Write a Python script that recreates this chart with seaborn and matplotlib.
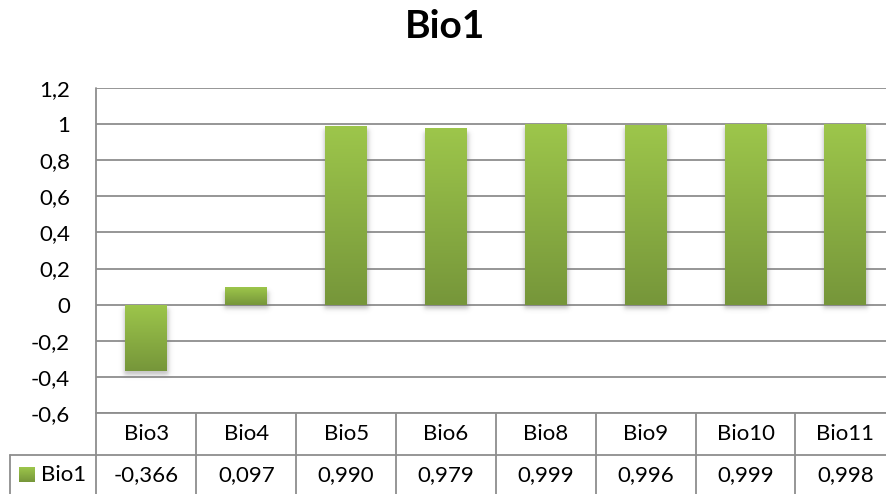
import numpy as np
import pandas as pd
import matplotlib
matplotlib.use("Agg")
import matplotlib.pyplot as plt
import seaborn as sns
from matplotlib.lines import Line2D
from matplotlib.colors import LinearSegmentedColormap
from matplotlib.ticker import FixedLocator, FuncFormatter

# Correlation of each bioclimatic variable with Bio1
categories = ["Bio3", "Bio4", "Bio5", "Bio6", "Bio8", "Bio9", "Bio10", "Bio11"]
values = [-0.366, 0.097, 0.990, 0.979, 0.999, 0.996, 0.999, 0.998]
series_name = "Bio1"
y_ticks = [-0.6, -0.4, -0.2, 0.0, 0.2, 0.4, 0.6, 0.8, 1.0, 1.2]

GREEN_TOP = "#9DC64B"
GREEN_BOT = "#76963A"
GRID = "#8E8E8E"
FS = 16

sns.set_theme(style="white")
plt.rcParams["font.family"] = ["Lato", "DejaVu Sans"]

W, H = 887, 494
fig = plt.figure(figsize=(W / 100, H / 100), dpi=100)
fig.patch.set_facecolor("white")

# plot area in pixels
px_left, cell_w = 96.5, 99.85
px_right = px_left + cell_w * len(categories)
px_top, px_bot = 88, 413
ax = fig.add_axes([px_left / W, (H - px_bot) / H,
                   (px_right - px_left) / W, (px_bot - px_top) / H])

df = pd.DataFrame({"variable": categories, "r": values})
sns.barplot(data=df, x="variable", y="r", ax=ax, width=0.42,
            color=GREEN_TOP, saturation=1, zorder=3)

ax.set_xlim(-0.5, len(categories) - 0.5)
ax.set_ylim(y_ticks[0], y_ticks[-1])

# vertical gradient fill with a soft drop shadow under each bar
cmap = LinearSegmentedColormap.from_list("bar", [GREEN_BOT, GREEN_TOP])
grad = np.linspace(0, 1, 256).reshape(-1, 1)
data_per_px_x = len(categories) / (px_right - px_left)
data_per_px_y = (y_ticks[-1] - y_ticks[0]) / (px_bot - px_top)


def soft_step(t, s):
    return 0.5 * (1 + np.tanh(t / s))


for p in list(ax.patches):
    x, w = p.get_x(), p.get_width()
    y0 = min(p.get_y(), p.get_y() + p.get_height())
    y1 = max(p.get_y(), p.get_y() + p.get_height())
    # shadow in pixel space
    bw = w / data_per_px_x
    bh = (y1 - y0) / data_per_px_y
    pad_x, pad_b = 8, 14
    nx, ny = int(bw + 2 * pad_x), int(bh + pad_b)
    xs = np.arange(nx) + 0.5 - pad_x
    ys = np.arange(ny) + 0.5  # from top of bar downward
    off = 4.0
    s = 2.6
    ax_x = soft_step(xs + 1, s) * soft_step(bw + 1 - xs, s)
    ax_y = soft_step(ys - off, s) * soft_step(bh + off - ys, s)
    alpha = np.outer(ax_y, ax_x) * 0.42
    shadow = np.zeros((ny, nx, 4))
    shadow[..., :3] = 0.45
    shadow[..., 3] = alpha
    ax.imshow(shadow, extent=(x - pad_x * data_per_px_x,
                              x + w + pad_x * data_per_px_x,
                              y1 - ny * data_per_px_y, y1),
              aspect="auto", origin="upper", zorder=2, interpolation="bilinear")
    im = ax.imshow(grad, extent=(x, x + w, y0, y1), origin="lower",
                   aspect="auto", cmap=cmap, zorder=3.5)
    im.set_clip_path(p)
    p.set_alpha(0)

ax.set_xlim(-0.5, len(categories) - 0.5)
ax.set_ylim(y_ticks[0], y_ticks[-1])

# axes styling
ax.yaxis.set_major_locator(FixedLocator(y_ticks))


def fmt(v, _pos=None):
    s = f"{v:.1f}".rstrip("0").rstrip(".")
    if s in ("-0", ""):
        s = "0"
    return s.replace(".", ",")


ax.yaxis.set_major_formatter(FuncFormatter(fmt))
ax.grid(axis="y", color=GRID, linewidth=1.3, zorder=0)
ax.grid(axis="x", visible=False)
ax.set_axisbelow(True)
for side in ("top", "right", "bottom", "left"):
    ax.spines[side].set_visible(False)
ax.tick_params(axis="y", length=0, pad=19, labelsize=FS, labelcolor="black")
ax.set_xticks(range(len(categories)))
ax.set_xticklabels([])
ax.tick_params(axis="x", length=0)
ax.set_xlabel("")
ax.set_ylabel("")


def fig_line(x0, y0, x1, y1):
    fig.add_artist(Line2D([x0 / W, x1 / W], [1 - y0 / H, 1 - y1 / H],
                          color=GRID, linewidth=1.3, transform=fig.transFigure))


# data table under the plot
row1_y, row2_y = 413, 455
fig_line(px_left, px_top, px_left, H + 2)
fig_line(px_left, row1_y, W + 5, row1_y)
fig_line(10, row2_y, W + 5, row2_y)
fig_line(10, row2_y, 10, H + 2)
for k in range(1, len(categories)):
    xk = px_left + k * cell_w
    fig_line(xk, row1_y, xk, H + 2)

for i, (c, v) in enumerate(zip(categories, values)):
    cx = (px_left + (i + 0.5) * cell_w) / W
    fig.text(cx, 1 - 434 / H, c, ha="center", va="center", fontsize=FS,
             color="black")
    fig.text(cx, 1 - 475 / H, f"{v:.3f}".replace(".", ","), ha="center",
             va="center", fontsize=FS, color="black")

# legend key in the table's row header
key = fig.add_axes([19 / W, 1 - 482 / H, 16 / W, 15 / H])
key.imshow(grad, origin="lower", aspect="auto", cmap=cmap)
key.set_axis_off()
fig.text(41 / W, 1 - 475 / H, series_name, ha="left", va="center",
         fontsize=FS, color="black")

fig.text(445 / W, 1 - 26 / H, series_name, ha="center", va="center",
         fontsize=28, fontweight="bold", color="black")

fig.savefig("out.png", dpi=100, facecolor="white")
